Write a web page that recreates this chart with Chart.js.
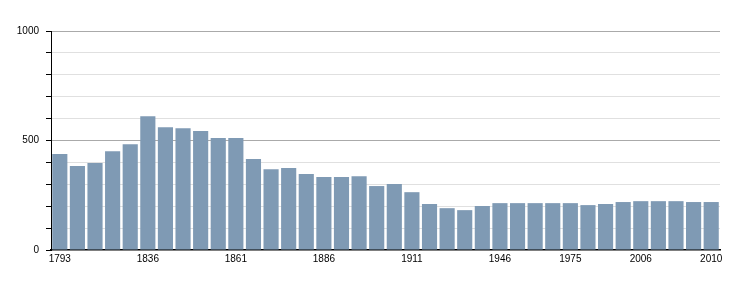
<!DOCTYPE html>
<html>
<head>
<meta charset="utf-8">
<script src="https://cdn.jsdelivr.net/npm/chart.js@4/dist/chart.umd.min.js"></script>
<style>
  html, body { margin: 0; padding: 0; background: #fff; }
  #wrap { width: 750px; height: 300px; }
</style>
</head>
<body>
<div id="wrap"><canvas id="popChart" width="750" height="300"></canvas></div>
<script>
// Census years and population
const years = [1793, 1800, 1806, 1821, 1831, 1836, 1841, 1846, 1851, 1856,
  1861, 1866, 1872, 1876, 1881, 1886, 1891, 1896, 1901, 1906,
  1911, 1921, 1926, 1931, 1936, 1946, 1954, 1962, 1968, 1975,
  1982, 1990, 1999, 2006, 2007, 2008, 2009, 2010];
const population = [438, 383, 397, 451, 483, 611, 561, 556, 543, 511,
  511, 415, 369, 374, 347, 333, 333, 337, 292, 301,
  264, 210, 191, 182, 201, 214, 214, 214, 214, 214,
  205, 210, 219, 223, 223, 223, 219, 219];
// which years get a label on the x axis
const shownYears = [1793, 1836, 1861, 1886, 1911, 1946, 1975, 2006, 2010];
const yLabels = [0, 500, 1000];

const font = { family: "'Liberation Sans', Arial, sans-serif", size: 10 };

new Chart(document.getElementById("popChart"), {
  type: "bar",
  data: {
    labels: years,
    datasets: [{
      data: population,
      backgroundColor: "#7f9ab4",
      borderWidth: 0,
      barPercentage: 0.86,
      categoryPercentage: 1.0,
    }],
  },
  options: {
    responsive: false,
    animation: false,
    layout: { padding: { top: 31, right: 30, left: 0, bottom: 0 } },
    plugins: { legend: { display: false }, tooltip: { enabled: false } },
    scales: {
      x: {
        grid: { display: false, drawTicks: false },
        border: { color: "#000", width: 1.5 },
        ticks: {
          autoSkip: false,
          maxRotation: 0,
          padding: 3,
          color: "#000",
          font: font,
          callback: function (value, index) {
            return shownYears.includes(years[index]) ? String(years[index]) : "";
          },
        },
        afterFit: function (scale) { scale.height = 50; },
      },
      y: {
        min: 0,
        max: 1000,
        ticks: {
          stepSize: 100,
          padding: 7,
          color: "#000",
          font: font,
          callback: function (value) {
            return yLabels.includes(value) ? String(value) : "";
          },
        },
        grid: {
          tickLength: 5,
          tickColor: "#000",
          color: function (ctx) {
            const v = ctx.tick.value;
            if (v === 0) return "rgba(0,0,0,0)";
            return v % 500 === 0 ? "#aaaaaa" : "#e0e0e0";
          },
        },
        border: { color: "#000", width: 1 },
        afterFit: function (scale) { scale.width = 51; },
      },
    },
  },
});
</script>
</body>
</html>
